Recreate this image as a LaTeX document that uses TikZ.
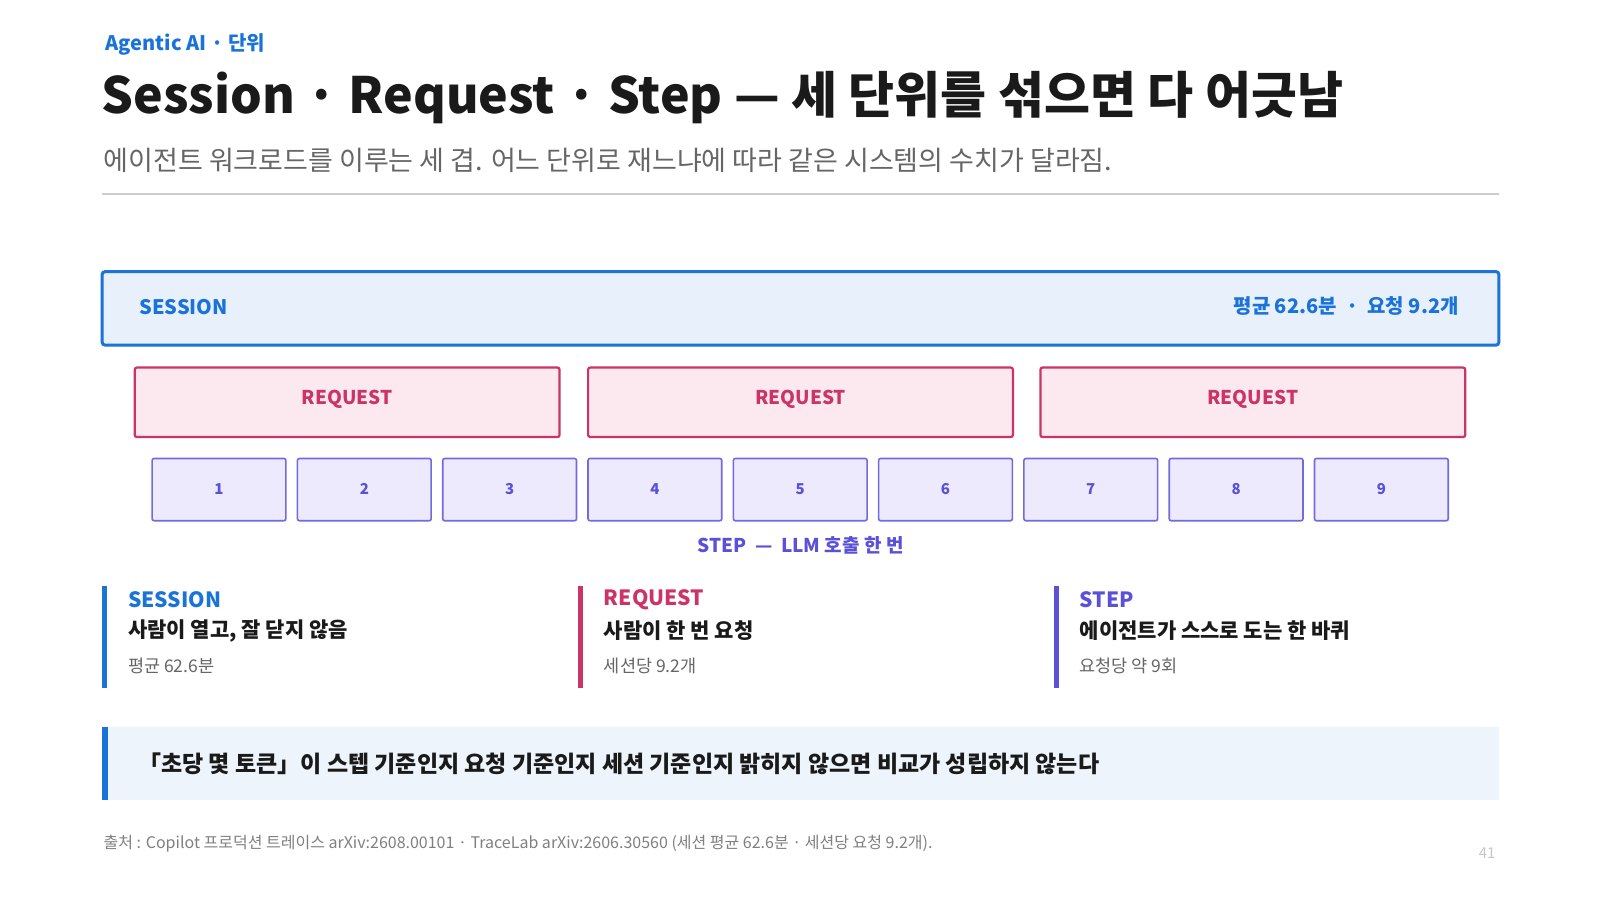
\documentclass[tikz,border=0pt]{standalone}
\usepackage{fontspec}
\setmainfont{Noto Sans CJK KR}
\definecolor{sessblue}{HTML}{1A73D9}
\definecolor{sessfill}{HTML}{E8F0FC}
\definecolor{reqred}{HTML}{CC3366}
\definecolor{reqfill}{HTML}{FCE9F0}
\definecolor{steppur}{HTML}{5B50D8}
\definecolor{stepfill}{HTML}{ECEAFC}
\definecolor{inkdark}{HTML}{1A1A1A}
\definecolor{callfill}{HTML}{EEF4FC}
\tikzset{
  reqbox/.style={draw=reqred, fill=reqfill, line width=2.2pt, rounded corners=2pt},
  stepbox/.style={draw=steppur!85, fill=stepfill, line width=1.6pt, rounded corners=2pt},
  colhead/.style={anchor=west, font=\fontsize{21}{24}\selectfont\bfseries},
  colmain/.style={anchor=west, text=inkdark, font=\fontsize{21}{24}\selectfont\bfseries},
  colsub/.style={anchor=west, text=black!60, font=\fontsize{17.5}{20}\selectfont}
}
\begin{document}
\begin{tikzpicture}[x=1.021pt,y=-1.021pt]
\useasboundingbox[fill=white] (0,0) rectangle (1567,881.5);
% header
\node[anchor=west, text=sessblue, font=\fontsize{20}{22}\selectfont\bfseries] (kicker) at (100,44) {Agentic AI · 단위};
\node[anchor=west, text=inkdark, font=\fontsize{50}{54}\selectfont\bfseries] (title) at (96,96) {Session · Request · Step — 세 단위를 섞으면 다 어긋남};
\node[anchor=west, text=black!60, font=\fontsize{27}{30}\selectfont] (subtitle) at (98,157) {에이전트 워크로드를 이루는 세 겹. 어느 단위로 재느냐에 따라 같은 시스템의 수치가 달라짐.};
\draw[black!20, line width=1.2pt] (100,190) -- (1468,190);
% session
\draw[draw=sessblue, fill=sessfill, line width=3pt, rounded corners=3pt] (100,266) rectangle (1468,338);
\node[anchor=west, text=sessblue, font=\fontsize{20}{22}\selectfont\bfseries] (sess) at (133,301) {SESSION};
\node[anchor=east, text=sessblue, font=\fontsize{20}{22}\selectfont\bfseries] (sessinfo) at (1432,300) {평균 62.6분 \ · \ 요청 9.2개};
% requests
\foreach \x in {132,576,1019}{
  \draw[reqbox] (\x,360) rectangle ++(416,68);
  \node[text=reqred, font=\fontsize{19}{22}\selectfont\bfseries] at (\x+208,391) {REQUEST};
}
% steps
\foreach \i in {1,...,9}{
  \pgfmathsetmacro{\sx}{149+(\i-1)*142.3}
  \draw[stepbox] (\sx,449) rectangle ++(131,61);
  \node[text=steppur, font=\fontsize{15}{18}\selectfont\bfseries] at (\sx+65.5,479) {\i};
}
\node[text=steppur, font=\fontsize{19}{22}\selectfont\bfseries] (steplbl) at (784,534) {STEP \ — \ LLM 호출 한 번};
% legend columns
\fill[sessblue] (100,574) rectangle (105,674);
\node[colhead, text=sessblue] (h1) at (122,587) {SESSION};
\node[colmain] (m1) at (122,618) {사람이 열고, 잘 닫지 않음};
\node[colsub] (s1) at (122,652) {평균 62.6분};
\fill[reqred] (566,574) rectangle (571,674);
\node[colhead, text=reqred] (h2) at (588,587) {REQUEST};
\node[colmain] (m2) at (588,618) {사람이 한 번 요청};
\node[colsub] (s2) at (588,652) {세션당 9.2개};
\fill[steppur] (1032,574) rectangle (1037,674);
\node[colhead, text=steppur] (h3) at (1054,587) {STEP};
\node[colmain] (m3) at (1054,618) {에이전트가 스스로 도는 한 바퀴};
\node[colsub] (s3) at (1054,652) {요청당 약 9회};
% callout
\fill[callfill] (100,712) rectangle (1468,783);
\fill[sessblue] (100,712) rectangle (106,783);
\node[anchor=west, text=inkdark, font=\fontsize{23}{26}\selectfont\bfseries] (callout) at (132,748) {「초당 몇 토큰」이 스텝 기준인지 요청 기준인지 세션 기준인지 밝히지 않으면 비교가 성립하지 않는다};
% footer
\node[anchor=west, text=black!50, font=\fontsize{16}{18}\selectfont] (src) at (98,826) {출처 : Copilot 프로덕션 트레이스 arXiv:2608.00101 · TraceLab arXiv:2606.30560 (세션 평균 62.6분 · 세션당 요청 9.2개).};
\node[anchor=east, text=black!22, font=\fontsize{15}{18}\selectfont] (page) at (1468,836) {41};
\end{tikzpicture}
\end{document}
